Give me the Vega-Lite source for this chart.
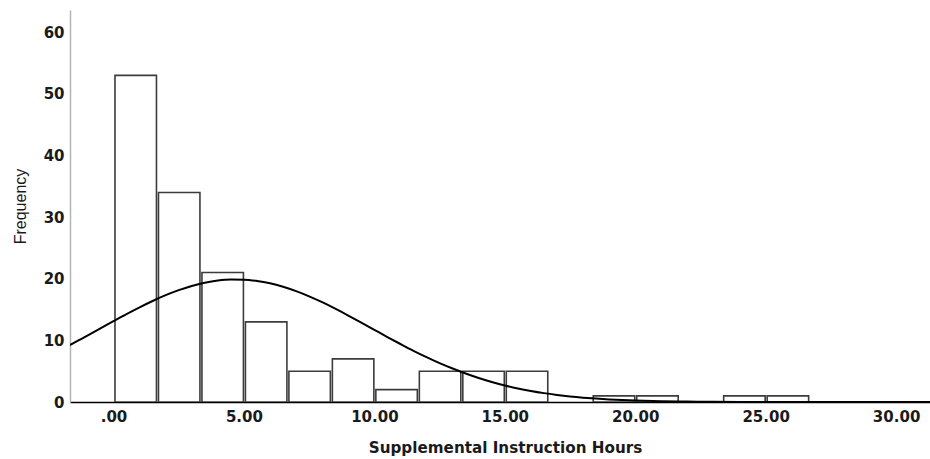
{
  "$schema": "https://vega.github.io/schema/vega-lite/v6.json",
  "width": 860,
  "height": 392,
  "autosize": {"type": "none"},
  "padding": {"left": 70, "top": 10, "right": 0, "bottom": 57},
  "background": "white",
  "config": {
    "view": {"stroke": null},
    "font": "Liberation Sans"
  },
  "datasets": {
    "bins": [
      {"start": 0, "end": 1.6667, "count": 53},
      {"start": 1.6667, "end": 3.3333, "count": 34},
      {"start": 3.3333, "end": 5, "count": 21},
      {"start": 5, "end": 6.6667, "count": 13},
      {"start": 6.6667, "end": 8.3333, "count": 5},
      {"start": 8.3333, "end": 10, "count": 7},
      {"start": 10, "end": 11.6667, "count": 2},
      {"start": 11.6667, "end": 13.3333, "count": 5},
      {"start": 13.3333, "end": 15, "count": 5},
      {"start": 15, "end": 16.6667, "count": 5},
      {"start": 18.3333, "end": 20, "count": 1},
      {"start": 20, "end": 21.6667, "count": 1},
      {"start": 23.3333, "end": 25, "count": 1},
      {"start": 25, "end": 26.6667, "count": 1}
    ],
    "curve": [
      {"x": -2, "y": 8.53}, {"x": -1.5, "y": 9.63}, {"x": -1, "y": 10.78}, {"x": -0.5, "y": 11.94},
      {"x": 0, "y": 13.11}, {"x": 0.5, "y": 14.26}, {"x": 1, "y": 15.36}, {"x": 1.5, "y": 16.39},
      {"x": 2, "y": 17.33}, {"x": 2.5, "y": 18.15}, {"x": 3, "y": 18.83}, {"x": 3.5, "y": 19.35},
      {"x": 4, "y": 19.70}, {"x": 4.5, "y": 19.86}, {"x": 5, "y": 19.85}, {"x": 5.5, "y": 19.64},
      {"x": 6, "y": 19.26}, {"x": 6.5, "y": 18.70}, {"x": 7, "y": 17.99}, {"x": 7.5, "y": 17.15},
      {"x": 8, "y": 16.19}, {"x": 8.5, "y": 15.14}, {"x": 9, "y": 14.03}, {"x": 9.5, "y": 12.88},
      {"x": 10, "y": 11.71}, {"x": 10.5, "y": 10.54}, {"x": 11, "y": 9.41}, {"x": 11.5, "y": 8.31},
      {"x": 12, "y": 7.28}, {"x": 12.5, "y": 6.31}, {"x": 13, "y": 5.43}, {"x": 13.5, "y": 4.62},
      {"x": 14, "y": 3.89}, {"x": 14.5, "y": 3.25}, {"x": 15, "y": 2.69}, {"x": 15.5, "y": 2.20},
      {"x": 16, "y": 1.79}, {"x": 16.5, "y": 1.44}, {"x": 17, "y": 1.15}, {"x": 17.5, "y": 0.906},
      {"x": 18, "y": 0.708}, {"x": 18.5, "y": 0.548}, {"x": 19, "y": 0.421}, {"x": 19.5, "y": 0.320},
      {"x": 20, "y": 0.241}, {"x": 21, "y": 0.133}, {"x": 22, "y": 0.0705}, {"x": 23, "y": 0.036},
      {"x": 24, "y": 0.018}, {"x": 25, "y": 0.008}, {"x": 26, "y": 0.003}, {"x": 28, "y": 0.0005},
      {"x": 30, "y": 0}, {"x": 32, "y": 0}
    ]
  },
  "layer": [
    {
      "data": {"name": "bins"},
      "mark": {"type": "bar", "fill": "white", "stroke": "#3c3c3c", "strokeWidth": 1.6, "binSpacing": 2, "clip": true},
      "encoding": {
        "x": {
          "field": "start", "type": "quantitative", "bin": {"binned": true, "step": 1.6667},
          "scale": {"domain": [-1.667, 31.3], "nice": false, "zero": false},
          "axis": {
            "values": [0, 5, 10, 15, 20, 25, 30],
            "labelExpr": "datum.value == 0 ? '.00' : format(datum.value, '.2f')",
            "title": "Supplemental Instruction Hours",
            "grid": false, "ticks": false,
            "domainColor": "#000000", "domainWidth": 1.5,
            "labelFont": "DejaVu Sans", "labelFontSize": 15, "labelFontWeight": "bold", "labelColor": "#1a1a1a",
            "labelPadding": 7, "labelFlush": false,
            "titleFont": "DejaVu Sans", "titleFontSize": 15.2, "titleFontWeight": "bold", "titleColor": "#1a1a1a",
            "titlePadding": 16, "titleX": 435
          }
        },
        "x2": {"field": "end"},
        "y": {
          "field": "count", "type": "quantitative",
          "scale": {"domain": [0, 63.6], "nice": false},
          "axis": {
            "values": [0, 10, 20, 30, 40, 50, 60],
            "title": "Frequency",
            "grid": false, "ticks": false,
            "domainColor": "#b4b4b4", "domainWidth": 1.5,
            "labelFont": "DejaVu Sans", "labelFontSize": 15, "labelFontWeight": "bold", "labelColor": "#1a1a1a",
            "labelPadding": 6,
            "titleFont": "Liberation Sans", "titleFontSize": 16, "titleFontWeight": "normal", "titleColor": "#1a1a1a",
            "titlePadding": 15
          }
        }
      }
    },
    {
      "data": {"name": "curve"},
      "mark": {"type": "line", "color": "#000000", "strokeWidth": 2, "clip": true, "interpolate": "monotone"},
      "encoding": {
        "x": {"field": "x", "type": "quantitative"},
        "y": {"field": "y", "type": "quantitative"}
      }
    }
  ]
}
